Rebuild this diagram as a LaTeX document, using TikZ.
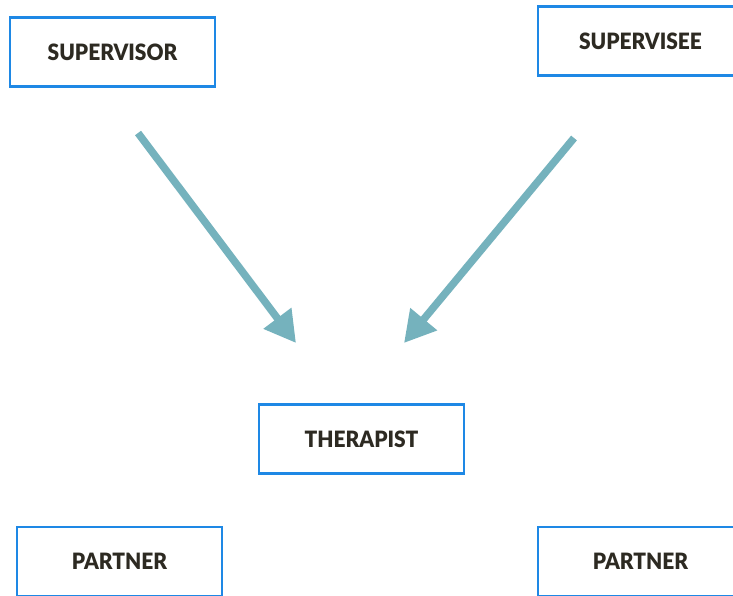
\documentclass[tikz,border=0pt]{standalone}
\usepackage{fontspec}
\setmainfont{Lato}
\newfontfamily\heavyfont{Lato Black}[FakeStretch=0.93]
\usetikzlibrary{arrows.meta}
\definecolor{boxblue}{HTML}{1E88E5}
\definecolor{arrowteal}{HTML}{75B2BD}
\definecolor{labelink}{HTML}{2D2A22}
\tikzset{
  rolebox/.style={draw=boxblue, line width=2.2pt, fill=white,
    minimum width=205pt, minimum height=69pt, inner sep=0pt,
    font=\heavyfont\fontsize{22.5}{26}\selectfont, text=labelink},
  influence/.style={draw=arrowteal, line width=7.5pt,
    -{Triangle[length=31pt, width=33pt]}}
}
\begin{document}
\begin{tikzpicture}[x=1pt, y=-1pt]
  \useasboundingbox (0,0) rectangle (733,595);
  \clip (0,0) rectangle (733,595);
  \fill[white] (0,0) rectangle (733,595);

  \node[rolebox] (supervisor) at (112.5,52) {SUPERVISOR};
  \node[rolebox] (supervisee) at (640.5,41) {SUPERVISEE};
  \node[rolebox] (therapist)  at (361.5,439) {THERAPIST};
  \node[rolebox] (partnerL)   at (119.5,561.5) {PARTNER};
  \node[rolebox] (partnerR)   at (640.5,561.5) {PARTNER};

  \coordinate (fromSupervisor) at (138,133);
  \coordinate (toTherapistL)   at (296,343);
  \coordinate (fromSupervisee) at (574,138);
  \coordinate (toTherapistR)   at (404,343);

  \draw[influence] (fromSupervisor) -- (toTherapistL);
  \draw[influence] (fromSupervisee) -- (toTherapistR);
\end{tikzpicture}
\end{document}
